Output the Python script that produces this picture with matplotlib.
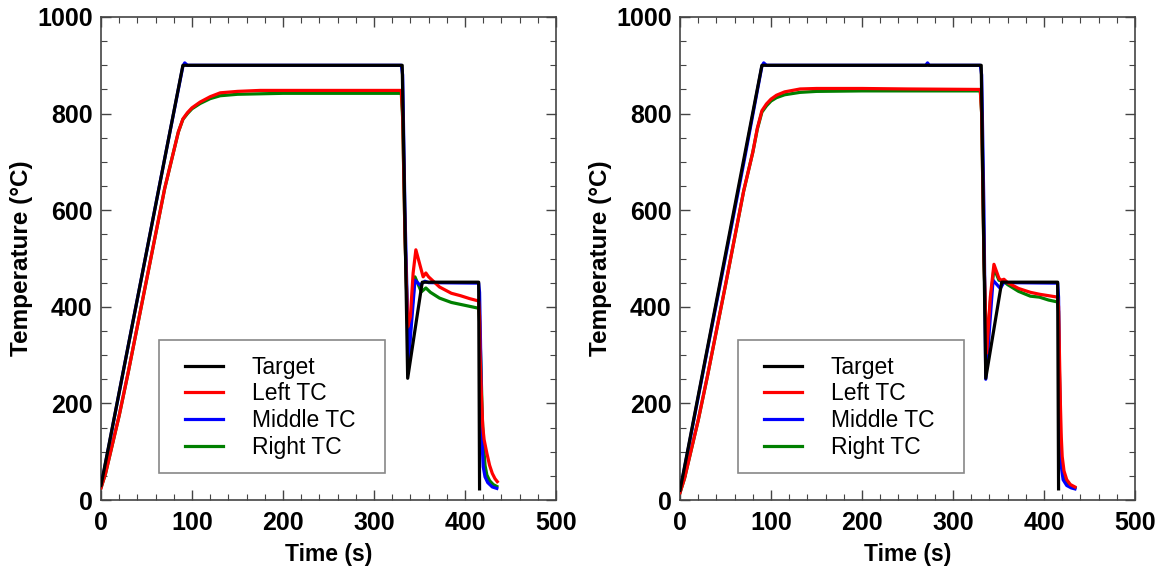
import matplotlib
matplotlib.use("Agg")
import matplotlib.pyplot as plt
from matplotlib.patches import Rectangle
from matplotlib.ticker import MultipleLocator

plt.rcParams["font.family"] = ["Liberation Sans", "DejaVu Sans"]

# --- left panel: thermocouple histories (time s, temperature C) ---
L_TARGET_T = [0, 90, 331, 337, 353, 415, 416]
L_TARGET_Y = [30, 900, 900, 252, 451, 451, 23]

L_LEFT_T = [0, 5, 10, 20, 30, 50, 70, 85, 90, 95, 100, 109, 120, 131, 150, 175, 200, 250, 330,
            331.5, 334, 337, 340, 343, 346, 350, 354, 357, 360, 372, 385, 395, 405, 415,
            416, 416.5, 418, 419.5, 421, 424, 427, 430, 433, 435.5]
L_LEFT_Y = [25, 55, 95, 175, 265, 455, 645, 762, 789, 802, 812, 824, 835, 843, 846, 848, 848, 848, 848,
            800, 550, 358, 380, 470, 518, 490, 462, 470, 462, 441, 428, 423, 417, 412,
            380, 304, 220, 152, 125, 97, 72, 55, 44, 38]

L_MID_T = [0, 10, 30, 50, 70, 90, 92, 95, 330, 331.5, 334, 338, 345, 350.5, 356, 360, 415,
           416, 417, 418.3, 419, 420, 422, 425, 430, 435]
L_MID_Y = [28, 125, 320, 513, 707, 898, 905, 900, 900, 880, 600, 290, 455, 445, 453, 450, 449,
           430, 330, 172, 110, 69, 48, 36, 27, 24]

L_RIGHT_T = [0, 5, 10, 20, 30, 50, 70, 85, 90, 95, 100, 109, 120, 131, 150, 175, 200, 250, 330,
             331.5, 334, 338, 341, 345, 352, 357, 362, 372, 385, 395, 405, 415,
             416, 417.5, 419, 420.5, 422, 424, 427, 431, 435]
L_RIGHT_Y = [25, 55, 95, 175, 265, 455, 645, 762, 788, 800, 810, 821, 831, 837, 840, 841, 842, 842, 842,
             790, 550, 296, 380, 462, 431, 439, 430, 418, 409, 405, 401, 397,
             370, 280, 170, 110, 72, 52, 40, 32, 28]

# --- right panel ---
R_TARGET_T = [0, 90, 331, 336, 353.5, 415, 416]
R_TARGET_Y = [20, 900, 900, 252, 451, 451, 23]

R_LEFT_T = [0, 5, 10, 20, 30, 50, 70, 80, 85, 90, 95, 100, 106, 115, 132, 150, 200, 250, 330,
            331.5, 334, 337, 341, 345, 350.5, 353, 356, 360, 372, 385, 395, 405, 415,
            416, 417, 418, 419, 420, 422, 425, 429, 434]
R_LEFT_Y = [15, 45, 85, 165, 255, 445, 640, 720, 770, 806, 820, 830, 838, 845, 851, 852, 852, 851, 850,
            800, 500, 304, 420, 488, 459, 455, 457, 450, 438, 430, 426, 423, 420,
            400, 300, 200, 130, 90, 60, 42, 32, 27]

R_MID_T = [0, 10, 30, 50, 70, 90, 92, 95, 270, 272, 274, 330, 331.5, 334, 336, 344, 352, 356, 360, 415,
           416, 417, 418, 419, 421, 425, 430, 434]
R_MID_Y = [18, 115, 310, 503, 697, 898, 905, 900, 900, 905, 900, 900, 880, 600, 250, 455, 438, 451, 450, 449,
           420, 250, 120, 70, 42, 30, 25, 23]

R_RIGHT_T = [0, 5, 10, 20, 30, 50, 70, 80, 85, 90, 95, 100, 106, 115, 132, 150, 200, 250, 330,
             331.5, 334, 337, 341, 345, 350.5, 356, 360, 372, 385, 395, 405, 415,
             416, 417, 418, 419, 421, 425, 430, 434]
R_RIGHT_Y = [15, 45, 85, 165, 255, 445, 640, 720, 768, 803, 816, 826, 833, 839, 844, 846, 847, 847, 847,
             800, 500, 300, 410, 480, 455, 452, 446, 432, 422, 420, 414, 410,
             390, 260, 140, 85, 52, 35, 28, 25]

LABELS = ["Target", "Left TC", "Middle TC", "Right TC"]
COLORS = ["black", "#ff0000", "#0000ff", "#008000"]

fig = plt.figure(figsize=(11.6, 5.71), dpi=100)
ax_l = fig.add_axes([101 / 1160, 71 / 571, 455 / 1160, 483 / 571])
ax_r = fig.add_axes([680 / 1160, 71 / 571, 455 / 1160, 483 / 571])

panels = [
    (ax_l, [(L_TARGET_T, L_TARGET_Y), (L_LEFT_T, L_LEFT_Y), (L_MID_T, L_MID_Y), (L_RIGHT_T, L_RIGHT_Y)]),
    (ax_r, [(R_TARGET_T, R_TARGET_Y), (R_LEFT_T, R_LEFT_Y), (R_MID_T, R_MID_Y), (R_RIGHT_T, R_RIGHT_Y)]),
]

# draw order: right, middle, left, then target on top
zorders = [5, 4, 3, 2]

for ax, series in panels:
    handles = []
    for (t, y), lab, col, z in zip(series, LABELS, COLORS, zorders):
        h, = ax.plot(t, y, color=col, lw=2.3, label=lab, zorder=z)
        handles.append(h)

    ax.set_xlim(0, 500)
    ax.set_ylim(0, 1000)
    ax.xaxis.set_major_locator(MultipleLocator(100))
    ax.xaxis.set_minor_locator(MultipleLocator(20))
    ax.yaxis.set_major_locator(MultipleLocator(200))
    ax.yaxis.set_minor_locator(MultipleLocator(50))
    ax.tick_params(which="both", direction="in", top=True, right=True, color="#444444")
    ax.tick_params(which="major", length=7, width=1.0, labelsize=18, pad=6)
    ax.tick_params(axis="x", which="major", pad=8)
    ax.tick_params(which="minor", length=4, width=0.8)
    for lbl in ax.get_xticklabels() + ax.get_yticklabels():
        lbl.set_fontweight("bold")
    for sp in ax.spines.values():
        sp.set_color("#444444")
        sp.set_linewidth(1.2)

    ax.set_xlabel("Time (s)", fontsize=16.5, fontweight="bold", labelpad=6)
    ax.set_ylabel("Temperature (\u00b0C)", fontsize=17.5, fontweight="bold", labelpad=3)

    # legend box drawn by hand so padding can be matched
    ax.add_patch(Rectangle((0.1275, 0.0559), 0.497, 0.275, transform=ax.transAxes,
                           facecolor="white", edgecolor="#888888", lw=1.2, zorder=9))
    leg = ax.legend(handles=handles, loc="upper left", bbox_to_anchor=(0.1846, 0.299),
                    fontsize=16.5, frameon=False, borderpad=0, borderaxespad=0,
                    handlelength=1.66, handletextpad=1.25, labelspacing=0.17)
    leg.set_zorder(10)

fig.savefig("out.png", dpi=100)
